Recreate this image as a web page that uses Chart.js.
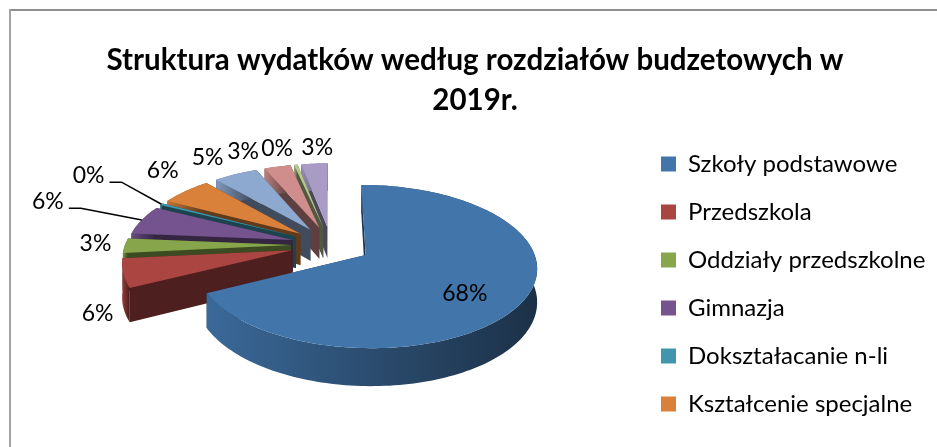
<!DOCTYPE html>
<html>
<head>
<meta charset="utf-8">
<style>
  html, body { margin: 0; padding: 0; background: #fff; }
  #box { position: relative; width: 937px; height: 447px; }
</style>
<script src="https://cdn.jsdelivr.net/npm/chart.js@4"></script>
</head>
<body>
<div id="box"><canvas id="chart"></canvas></div>
<script>
const titleLines = ['Struktura wydatków według rozdziałów budzetowych w', '2019r.'];

// only the first six names can be read, the legend is cut off in the picture
const categories = ['Szkoły podstawowe', 'Przedszkola', 'Oddziały przedszkolne', 'Gimnazja',
  'Dokształacanie n-li', 'Kształcenie specjalne', '', '', '', ''];
const shares = [67.6, 5.8, 3, 6, 0.4, 5.8, 5, 3, 0.4, 3];
const sliceColors = ['#4275aa', '#ab4542', '#87a64c', '#74538f', '#3f96ad', '#d9813a',
  '#8ea9d0', '#cf8e8c', '#b5c98f', '#a89bc5'];

// look of the tilted pie
const view = {
  centerX: 331, centerY: 245,  // pie centre on the page, before explode
  radius: 166, explode: 40, depth: 32,
  tilt: 0.465, camera: 1190
};

// label placement: distance from the pie centre (in radii) and a small nudge
const labelReach = [0.62, 1.2, 1.2, 1.2, 1.2, 1.2, 1.2, 1.2, 1.2, 1.2];
const labelNudge = [[4, 11], [10, 36], [4, -2], [-65, -15], [-48, -23], [-2, -13], [-15, -7], [-27, -4], [-14, -5], [5, -5]];
const leaderSlices = [3, 4];

function shade(color, factor) {
  const n = parseInt(color.slice(1), 16);
  const r = Math.round((n >> 16) * factor);
  const g = Math.round(((n >> 8) & 255) * factor);
  const b = Math.round((n & 255) * factor);
  return `rgb(${r},${g},${b})`;
}

// pie plane -> screen, with the near side drawn bigger
function project(u, v, drop) {
  const s = view.camera / (view.camera - v);
  return {
    x: view.centerX + u * s,
    y: view.centerY + (v * view.tilt + (drop || 0)) * s
  };
}

function slicePoint(el, angle, reach, drop) {
  const k = view.radius / el.outerRadius;
  const mid = (el.startAngle + el.endAngle) / 2;
  const u = view.explode * Math.cos(mid) + reach * el.outerRadius * k * Math.cos(angle);
  const v = view.explode * Math.sin(mid) + reach * el.outerRadius * k * Math.sin(angle);
  return project(u, v, drop);
}

function arcPoints(el, drop) {
  const points = [];
  const steps = Math.max(4, Math.ceil((el.endAngle - el.startAngle) * 40));
  for (let i = 0; i <= steps; i++) {
    const angle = el.startAngle + (el.endAngle - el.startAngle) * i / steps;
    points.push(slicePoint(el, angle, 1, drop));
  }
  return points;
}

function fillPath(ctx, points, fill) {
  ctx.beginPath();
  points.forEach((p, i) => (i ? ctx.lineTo(p.x, p.y) : ctx.moveTo(p.x, p.y)));
  ctx.closePath();
  ctx.fillStyle = fill;
  ctx.fill();
}

function drawSlice(ctx, el, color) {
  const top = arcPoints(el, 0);
  const bottom = arcPoints(el, view.depth);
  const apexTop = slicePoint(el, 0, 0, 0);
  const apexBottom = slicePoint(el, 0, 0, view.depth);

  // radial walls
  fillPath(ctx, [apexTop, top[0], bottom[0], apexBottom], shade(color, 0.45));
  fillPath(ctx, [apexTop, top[top.length - 1], bottom[bottom.length - 1], apexBottom], shade(color, 0.45));

  // outer wall, darker to the right
  const xs = top.map(p => p.x);
  const gradient = ctx.createLinearGradient(Math.min(...xs), 0, Math.max(...xs), 0);
  gradient.addColorStop(0, shade(color, 0.9));
  gradient.addColorStop(0.5, shade(color, 0.65));
  gradient.addColorStop(1, shade(color, 0.42));
  fillPath(ctx, top.concat(bottom.slice().reverse()), gradient);

  fillPath(ctx, [apexTop].concat(top), color);
}

const pie3d = {
  id: 'pie3d',
  afterLayout(chart) {
    // the legend sits lower than Chart.js would put it, and it clips to its own box
    chart.legend.left = 637;
    chart.legend.right = chart.width;
    chart.legend.top = 128;
    chart.legend.bottom = chart.height;
  },
  beforeDraw(chart) {
    const ctx = chart.ctx;
    ctx.save();
    ctx.fillStyle = '#8f8f8f';
    ctx.fillRect(9, 9, chart.width - 9, 2);
    ctx.fillStyle = '#a3a3a3';
    ctx.fillRect(9, 9, 2, chart.height - 9);
    ctx.restore();
  },
  beforeDatasetDraw(chart) {
    const ctx = chart.ctx;
    const arcs = chart.getDatasetMeta(0).data;

    // back slices first, the big one goes on top of them all
    ctx.save();
    for (let i = arcs.length - 1; i >= 0; i--) {
      drawSlice(ctx, arcs[i], sliceColors[i]);
    }

    ctx.strokeStyle = '#000';
    ctx.lineWidth = 1.5;
    ctx.fillStyle = '#000';
    ctx.font = '23px Lato';
    ctx.textAlign = 'center';
    ctx.textBaseline = 'middle';
    arcs.forEach((el, i) => {
      const mid = (el.startAngle + el.endAngle) / 2;
      const spot = slicePoint(el, mid, labelReach[i], 0);
      const x = spot.x + labelNudge[i][0];
      const y = spot.y + labelNudge[i][1];
      ctx.fillText(Math.round(shares[i]) + '%', x, y);
      if (leaderSlices.includes(i)) {
        const edge = slicePoint(el, mid, 1, 0);
        ctx.beginPath();
        ctx.moveTo(x + 21, y + 7);
        ctx.lineTo(x + 33, y + 7);
        ctx.lineTo(edge.x, edge.y);
        ctx.stroke();
      }
    });
    ctx.restore();
    return false;
  }
};

new Chart(document.getElementById('chart'), {
  type: 'pie',
  data: {
    labels: categories,
    datasets: [{ data: shares, backgroundColor: sliceColors, borderWidth: 0 }]
  },
  options: {
    responsive: true,
    maintainAspectRatio: false,
    animation: false,
    layout: { padding: { left: 23, right: 10, top: 0, bottom: 0 } },
    plugins: {
      tooltip: { enabled: false },
      title: {
        display: true,
        text: titleLines,
        color: '#000',
        font: { family: 'Lato', size: 29.5, weight: 'bold', lineHeight: 1.36 },
        padding: { top: 40, bottom: 16 }
      },
      legend: {
        position: 'right',
        align: 'start',
        labels: {
          filter: item => item.index < 6,
          boxWidth: 15,
          boxHeight: 15,
          padding: 24,
          color: '#000',
          font: { family: 'Lato', size: 24 }
        }
      }
    }
  },
  plugins: [pie3d]
});
</script>
</body>
</html>
